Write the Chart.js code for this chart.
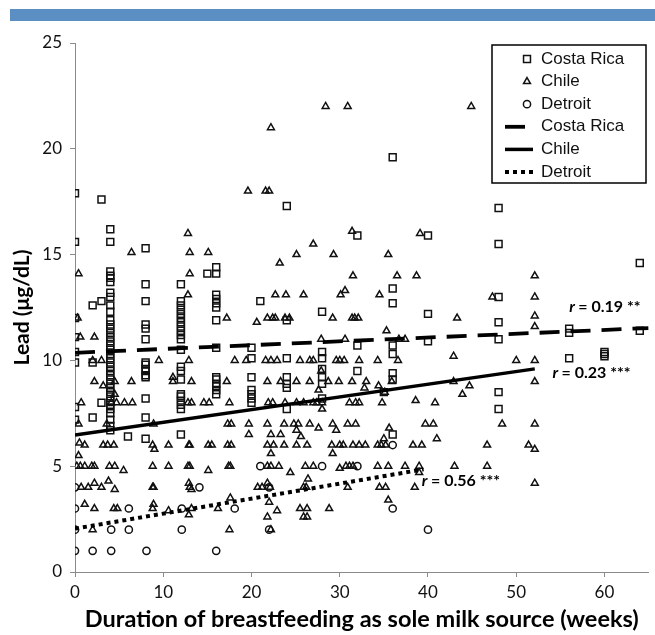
<!DOCTYPE html>
<html>
<head>
<meta charset="utf-8">
<script src="https://cdn.jsdelivr.net/npm/chart.js@4.4.1/dist/chart.umd.min.js"></script>
<style>
  html, body { margin: 0; padding: 0; background: #fff; }
  #wrap { width: 655px; height: 635px; }
</style>
</head>
<body>
<div id="wrap"><canvas id="chart" width="655" height="635"></canvas></div>
<script>
// ---------- data (weeks, µg/dL) ----------
// Costa Rica: one column of lead values per reported duration
const crWeeks = [0, 2, 3, 4, 6, 8, 12, 15, 16, 20, 21, 24, 28, 32, 35, 36, 40, 48, 56, 60, 64];
const crLead = [
  [17.9, 15.6, 12.0, 11.1, 10.4, 9.9, 7.8, 7.2],
  [12.6, 9.9, 7.3],
  [17.6, 12.8, 8.0],
  [16.2, 15.6, 14.2, 14.0, 13.9, 13.7, 13.2, 13.0, 12.6, 12.3, 11.9, 11.7, 11.5, 11.3, 11.1, 10.9, 10.7, 10.5,
   10.3, 10.1, 9.9, 9.7, 9.5, 9.3, 9.1, 8.9, 8.7, 8.5, 8.3, 8.1, 7.9, 7.7, 7.5, 7.2, 6.9, 6.7],
  [6.4],
  [15.3, 13.6, 12.8, 11.7, 11.5, 11.0, 9.9, 9.8, 9.6, 9.5, 9.3, 9.2, 8.2, 7.3, 6.3],
  [13.6, 12.8, 12.6, 12.4, 12.2, 12.0, 11.8, 11.6, 11.4, 11.2, 11.0, 10.5, 9.7, 9.5, 9.1, 8.4, 8.3, 8.1, 7.9, 7.7, 6.5],
  [14.1],
  [14.4, 14.1, 13.1, 12.9, 12.7, 12.5, 11.9, 10.6, 9.2, 9.1, 8.9, 8.8, 8.6, 8.4],
  [10.6, 10.1, 9.2, 8.6, 8.4, 8.2, 8.0],
  [12.8],
  [17.3, 11.9, 10.1, 9.2, 8.9, 8.7, 7.7],
  [12.3, 10.4, 10.1, 9.6, 9.2, 8.9, 8.2],
  [15.9, 10.7, 9.5],
  [8.5],
  [19.6, 13.4, 12.7, 10.7, 10.3, 9.4, 9.1, 6.5],
  [15.9, 12.2, 10.9],
  [17.2, 15.5, 13.0, 11.8, 11.0, 8.5, 7.7],
  [11.5, 11.3, 10.1],
  [10.4, 10.3, 10.2],
  [14.6, 11.4]
];

// Chile: [weeks, lead]
const chilePts = [
  [12.8, 16.0], [19.6, 18.0], [21.6, 18.0], [22.0, 18.0], [22.2, 21.0], [28.4, 22.0], [30.9, 22.0], [44.9, 22.0],
  [31.4, 16.1], [39.1, 16.0], [6.4, 15.1], [13.0, 15.1], [15.1, 15.1], [0.4, 14.1], [13.0, 14.1], [12.8, 13.1],
  [17.2, 12.0], [20.6, 11.8], [0.3, 12.0], [0.6, 11.1], [2.2, 11.1],
  [2.0, 10.0], [3.0, 10.0], [9.5, 10.0], [12.9, 10.0], [18.1, 10.0], [19.4, 10.0], [21.6, 10.0], [22.2, 10.0],
  [11.1, 9.2], [2.2, 9.0], [3.2, 8.8], [4.5, 9.0], [6.4, 9.0], [11.1, 9.0], [13.2, 9.0], [17.2, 9.0], [21.8, 9.0], [4.5, 8.4],
  [0.7, 8.0], [4.1, 8.0], [4.7, 8.0], [5.6, 8.0], [6.5, 8.0], [12.8, 8.0], [13.2, 8.0], [14.6, 8.0], [15.2, 8.0],
  [17.5, 8.0], [21.9, 8.0], [22.4, 8.0],
  [0.4, 7.0], [3.6, 7.0], [8.9, 7.0], [17.3, 7.0], [17.7, 7.0], [19.7, 7.0], [21.8, 7.0],
  [0.5, 6.1], [1.1, 6.0], [0.4, 5.5], [3.2, 6.0], [3.7, 6.0], [4.4, 6.0], [8.8, 6.0], [9.0, 5.8], [10.6, 6.0],
  [12.9, 6.0], [13.0, 6.0], [15.1, 6.0], [15.5, 6.0], [17.3, 6.0], [17.7, 6.0], [19.7, 6.5], [21.8, 6.0],
  [0.2, 5.0], [0.6, 5.0], [1.1, 5.0], [1.9, 5.0], [2.2, 5.0], [3.9, 5.0], [4.5, 5.0], [5.5, 4.8], [8.8, 5.0],
  [10.6, 5.0], [12.8, 5.0], [13.0, 5.0], [15.1, 4.8], [17.4, 5.0], [17.6, 5.0], [21.8, 5.0],
  [0.7, 4.0], [1.5, 4.0], [2.2, 4.2], [3.0, 4.0], [3.8, 4.3], [4.5, 3.9], [8.8, 4.0], [8.9, 4.0], [12.9, 4.2],
  [13.0, 4.0], [13.2, 3.9], [20.7, 4.0], [21.2, 4.0], [21.8, 4.2], [22.1, 4.0],
  [1.1, 3.2], [2.2, 3.0], [4.4, 3.0], [4.8, 3.0], [8.8, 3.0], [8.9, 3.2], [10.6, 2.9], [12.9, 2.7], [13.2, 3.0],
  [16.2, 3.0], [17.6, 3.5], [22.0, 3.3], [21.8, 2.6], [22.9, 2.9], [2.0, 2.0], [17.5, 2.0], [22.2, 2.0],
  [27.0, 15.5], [25.1, 15.0], [29.3, 15.0], [35.5, 15.0], [23.2, 14.6], [31.5, 14.0], [36.5, 14.0], [38.7, 14.0],
  [30.6, 13.3], [30.1, 13.1], [22.7, 13.1], [23.9, 13.1], [25.9, 13.1], [34.5, 13.1],
  [21.8, 12.0], [22.4, 12.0], [22.7, 12.0], [23.8, 12.0], [24.3, 12.0], [29.2, 12.0], [31.4, 12.0], [31.7, 12.0],
  [32.1, 12.0], [43.3, 12.0], [35.3, 11.4], [27.9, 11.0], [30.6, 11.0], [36.7, 11.0], [37.4, 11.0],
  [22.9, 10.0], [25.5, 10.0], [26.6, 10.0], [27.0, 10.0], [29.6, 10.0], [30.0, 10.0], [30.5, 10.0], [32.2, 10.0],
  [34.3, 10.0], [36.6, 10.0], [42.9, 10.2], [27.9, 9.5],
  [23.3, 9.0], [25.1, 9.0], [26.6, 9.0], [28.7, 9.0], [29.9, 9.0], [31.4, 9.0], [33.0, 9.0], [34.4, 8.8], [35.9, 9.0],
  [27.6, 8.6], [32.8, 8.7], [35.1, 8.5], [44.7, 8.8], [43.9, 8.4], [42.9, 9.0],
  [23.8, 8.0], [25.1, 8.0], [25.9, 8.0], [27.0, 8.0], [27.4, 8.0], [28.0, 8.0], [31.1, 8.0], [31.8, 8.0], [32.2, 8.0],
  [34.8, 8.0], [38.6, 8.1], [40.8, 8.0], [28.0, 7.7],
  [23.7, 7.0], [24.8, 7.0], [25.3, 7.0], [26.6, 7.0], [27.6, 6.8], [29.2, 7.0], [30.9, 7.0], [31.8, 7.0], [35.6, 6.8],
  [39.7, 7.0], [40.6, 7.0], [22.2, 6.5], [23.3, 6.5], [25.1, 6.7], [25.6, 6.4], [29.6, 6.7], [35.0, 6.3], [41.0, 6.3],
  [22.5, 6.0], [23.7, 6.0], [25.1, 6.0], [26.3, 6.0], [29.1, 6.0], [30.0, 6.0], [30.4, 6.0], [31.5, 6.0], [32.2, 6.0],
  [32.9, 6.0], [34.3, 6.0], [34.7, 6.0], [35.2, 6.0], [38.3, 6.0], [39.3, 6.0], [22.2, 5.6], [29.2, 5.6],
  [22.2, 5.0], [23.1, 5.0], [26.1, 5.0], [27.0, 5.0], [30.0, 4.9], [30.7, 5.0], [31.1, 5.0], [31.5, 5.0], [34.3, 5.0],
  [35.5, 5.0], [37.4, 5.0], [39.0, 5.0], [43.0, 5.0], [39.0, 4.7], [24.4, 4.7], [26.4, 4.4], [26.2, 4.0], [25.9, 4.0],
  [30.9, 4.0], [34.5, 4.0], [35.2, 4.0], [38.5, 4.0], [35.5, 3.4], [25.5, 3.0], [26.3, 3.0], [28.8, 3.0], [25.9, 2.6],
  [26.3, 2.6],
  [47.3, 13.0], [52.1, 14.0], [52.1, 13.0], [52.1, 12.1], [52.1, 11.6], [50.0, 10.0], [52.1, 10.0], [52.1, 9.0],
  [48.4, 7.0], [52.1, 7.0], [46.7, 6.0], [51.4, 6.0], [52.1, 5.8], [46.7, 5.0], [52.1, 4.2]
];

// Detroit: [weeks, lead]
const detroitPts = [
  [0, 4.0], [0, 3.0], [0, 2.0], [0, 1.0], [2.0, 1.0], [4.1, 1.0], [8.1, 1.0], [16.0, 1.0], [4.1, 2.0], [6.1, 2.0],
  [12.1, 2.0], [6.1, 3.0], [12.1, 3.0], [18.1, 3.0], [14.1, 4.0], [21.0, 5.0], [22.0, 2.0], [22.0, 4.0], [28.0, 5.0],
  [32.0, 5.0], [36.0, 6.0], [36.0, 3.0], [40.0, 2.0]
];

// regression lines, end points [weeks, lead]
const crFit = [[0, 10.36], [65, 11.53]];
const chileFit = [[0, 6.47], [52.1, 9.6]];
const detroitFit = [[0, 2.05], [39.5, 4.85]];

const fitLabels = ['= 0.19 **', '= 0.23 ***', '= 0.56 ***'];
const xTickStep = 10;
const yTickStep = 5;

// ---------- helpers ----------
const toXY = (pts) => pts.map(p => ({ x: p[0], y: p[1] }));
const crPts = [];
crWeeks.forEach((w, i) => crLead[i].forEach(v => crPts.push([w, v])));

const INK = '#111';
const FONT = 'Lato, "Open Sans", sans-serif';

// blue band at the top of the figure
const topBand = {
  id: 'topBand',
  beforeDraw(chart) {
    const ctx = chart.ctx;
    ctx.save();
    ctx.fillStyle = '#5b8fc3';
    ctx.fillRect(10, 9, chart.width - 10, 12);
    ctx.restore();
  }
};

// r labels next to the fitted lines
const fitText = {
  id: 'fitText',
  afterDatasetsDraw(chart, args, opts) {
    const ctx = chart.ctx;
    const { x, y } = chart.scales;
    ctx.save();
    ctx.fillStyle = '#000';
    ctx.textBaseline = 'middle';
    opts.items.forEach(it => {
      const px = x.getPixelForValue(it.at[0]);
      const py = y.getPixelForValue(it.at[1]);
      ctx.font = 'italic bold 16px ' + FONT;
      ctx.fillText('r', px, py);
      const w = ctx.measureText('r ').width;
      ctx.font = 'bold 16px ' + FONT;
      ctx.fillText(it.text, px + w, py);
    });
    ctx.restore();
  }
};

// boxed legend in the upper right corner
const boxLegend = {
  id: 'boxLegend',
  afterDraw(chart, args, opts) {
    const ctx = chart.ctx;
    const ds = chart.data.datasets;
    ctx.save();
    ctx.fillStyle = '#fff';
    ctx.fillRect(opts.left, opts.top, opts.width, opts.height);
    ctx.strokeStyle = '#000';
    ctx.lineWidth = 1.5;
    ctx.strokeRect(opts.left, opts.top, opts.width, opts.height);

    opts.rows.forEach((idx, n) => {
      const d = ds[idx];
      const y = opts.top + opts.firstRow + n * opts.rowGap;
      if (d.showLine) {
        ctx.save();
        ctx.strokeStyle = d.borderColor;
        ctx.lineWidth = d.borderWidth;
        ctx.setLineDash(d.legendDash || []);
        ctx.beginPath();
        ctx.moveTo(opts.lineFrom, y);
        ctx.lineTo(opts.lineTo, y);
        ctx.stroke();
        ctx.restore();
      } else {
        ctx.save();
        ctx.strokeStyle = d.borderColor;
        ctx.fillStyle = 'rgba(0,0,0,0)';
        ctx.lineWidth = d.borderWidth;
        Chart.helpers.drawPoint(ctx, {
          pointStyle: d.pointStyle, radius: d.pointRadius, rotation: 0, borderWidth: d.borderWidth
        }, opts.markerX, y);
        ctx.restore();
      }
      ctx.fillStyle = '#111';
      ctx.font = '17px "Liberation Sans", Arial, sans-serif';
      ctx.textBaseline = 'middle';
      ctx.fillText(d.label, opts.textX, y);
    });
    ctx.restore();
  }
};

const pointSet = (label, pts, style, r) => ({
  label, data: toXY(pts), pointStyle: style, pointRadius: r, pointHoverRadius: r,
  borderColor: INK, backgroundColor: 'rgba(0,0,0,0)', borderWidth: 1.5, showLine: false, order: 2
});

const lineSet = (label, pts, dash, width) => ({
  label, data: toXY(pts), showLine: true, pointRadius: 0, borderColor: '#000',
  borderWidth: width, borderDash: dash, legendDash: dash, fill: false, order: 1
});

new Chart(document.getElementById('chart'), {
  type: 'scatter',
  data: {
    datasets: [
      pointSet('Costa Rica', crPts, 'rect', 4.9),
      pointSet('Chile', chilePts, 'triangle', 4.0),
      pointSet('Detroit', detroitPts, 'circle', 3.6),
      lineSet('Costa Rica', crFit, [20, 11], 3.8),
      lineSet('Chile', chileFit, [], 3.5),
      lineSet('Detroit', detroitFit, [4, 4], 4)
    ]
  },
  options: {
    responsive: false,
    animation: false,
    layout: { padding: { top: 43, right: 0, bottom: 0, left: 0 } },
    plugins: {
      legend: { display: false },
      tooltip: { enabled: false },
      boxLegend: {
        left: 492, top: 45, width: 154, height: 138,
        firstRow: 14, rowGap: 22.6, markerX: 527, lineFrom: 505, lineTo: 533, textX: 541,
        rows: [0, 1, 2, 3, 4, 5]
      },
      fitText: {
        items: [
          { text: fitLabels[0], at: [56.0, 12.55] },
          { text: fitLabels[1], at: [54.1, 9.4] },
          { text: fitLabels[2], at: [39.3, 4.3] }
        ]
      }
    },
    scales: {
      x: {
        type: 'linear',
        min: 0, max: 65,
        afterFit: (s) => { s.height = 63; },
        ticks: {
          stepSize: xTickStep, includeBounds: false, padding: 5,
          color: '#111', font: { family: FONT, size: 17 }
        },
        grid: { drawOnChartArea: false, drawTicks: true, tickLength: 5, color: '#8a8a8a' },
        border: { color: '#8a8a8a', width: 1 },
        title: {
          display: true,
          text: 'Duration of breastfeeding as sole milk source (weeks)',
          color: '#000',
          font: { family: FONT, size: 23.5, weight: 'bold' },
          padding: { top: 0, bottom: 1 }
        }
      },
      y: {
        min: 0, max: 25,
        afterFit: (s) => { s.width = 75; },
        ticks: {
          stepSize: yTickStep, padding: 8,
          color: '#111', font: { family: FONT, size: 17 }
        },
        grid: { drawOnChartArea: false, drawTicks: true, tickLength: 5, color: '#8a8a8a' },
        border: { color: '#8a8a8a', width: 1 },
        title: {
          display: true,
          text: 'Lead (μg/dL)',
          color: '#000',
          font: { family: FONT, size: 21, weight: 'bold' },
          padding: { top: 10, bottom: 0 }
        }
      }
    }
  },
  plugins: [topBand, fitText, boxLegend]
});
</script>
</body>
</html>
